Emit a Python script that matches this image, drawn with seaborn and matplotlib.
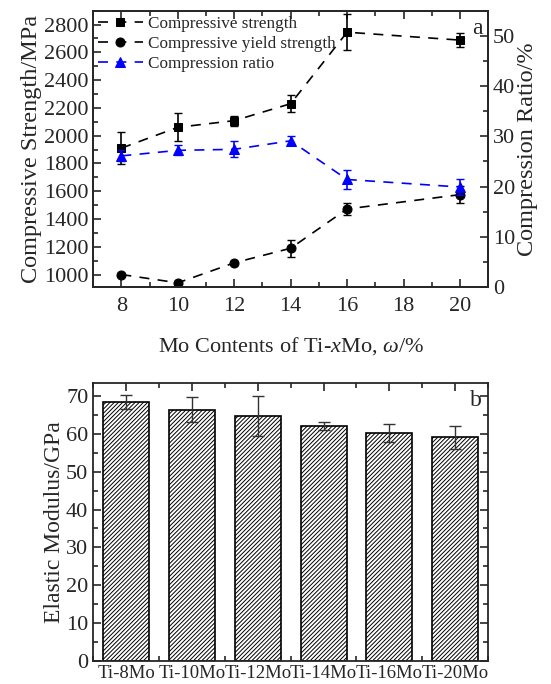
import numpy as np
import pandas as pd
import matplotlib as mpl
import matplotlib.pyplot as plt
import seaborn as sns
from matplotlib.ticker import MultipleLocator, AutoMinorLocator

# values
mo = [8, 10, 12, 14, 16, 20]
comp_strength = [1910, 2060, 2108, 2230, 2745, 2688]
comp_strength_err = [115, 100, 35, 60, 130, 50]
yield_strength = [1000, 940, 1084, 1189, 1472, 1575]
yield_strength_err = [12, 10, 12, 63, 43, 60]
comp_ratio = [26.1, 27.2, 27.4, 29.1, 21.4, 19.9]
comp_ratio_err = [1.1, 1.0, 1.6, 0.9, 1.9, 1.5]

alloys = ['Ti-8Mo', 'Ti-10Mo', 'Ti-12Mo', 'Ti-14Mo', 'Ti-16Mo', 'Ti-20Mo']
modulus = [68.4, 66.4, 64.8, 62.1, 60.3, 59.1]
modulus_err = [1.9, 3.2, 5.3, 1.0, 2.4, 3.0]

sns.set_style('ticks')
plt.rcParams['font.family'] = ['Liberation Serif', 'DejaVu Serif']
plt.rcParams['mathtext.fontset'] = 'custom'
plt.rcParams['mathtext.rm'] = 'Liberation Serif'
plt.rcParams['mathtext.it'] = 'Liberation Serif:italic'
plt.rcParams['hatch.linewidth'] = 0.7
plt.rcParams['xtick.direction'] = 'in'
plt.rcParams['ytick.direction'] = 'in'

df = pd.DataFrame({'mo': mo, 'cs': comp_strength, 'ys': yield_strength, 'cr': comp_ratio})
dash = (0, (6, 5))

fig = plt.figure(figsize=(5.51, 6.84), dpi=100)
ax = fig.add_axes([0.169, 0.5804, 0.717, 0.404])
ax2 = ax.twinx()

sns.lineplot(data=df, x='mo', y='cs', ax=ax, color='black', linestyle=dash, lw=1.2,
             marker='s', markersize=6, markeredgecolor='black', label='Compressive strength', legend=False)
sns.lineplot(data=df, x='mo', y='ys', ax=ax, color='black', linestyle=dash, lw=1.2,
             marker='o', markersize=6.5, markeredgecolor='black', label='Compressive yield strength', legend=False)
ax.errorbar(mo, comp_strength, yerr=comp_strength_err, fmt='none', ecolor='black', elinewidth=1.2, capsize=3)
ax.errorbar(mo, yield_strength, yerr=yield_strength_err, fmt='none', ecolor='black', elinewidth=1.2, capsize=3)

sns.lineplot(data=df, x='mo', y='cr', ax=ax2, color='#0000ff', linestyle=dash, lw=1.2,
             marker='^', markersize=7, markeredgecolor='#0000ff', label='Compression ratio', legend=False)
ax2.errorbar(mo, comp_ratio, yerr=comp_ratio_err, fmt='none', ecolor='#0000ff', elinewidth=1.2, capsize=3)

ax.set_xlim(7, 21)
ax.set_ylim(910, 2900)
ax2.set_ylim(0, 55)
ax.xaxis.set_major_locator(MultipleLocator(2))
ax.xaxis.set_minor_locator(MultipleLocator(1))
ax.yaxis.set_major_locator(MultipleLocator(200))
ax.yaxis.set_minor_locator(MultipleLocator(100))
ax2.yaxis.set_major_locator(MultipleLocator(10))
ax2.yaxis.set_minor_locator(MultipleLocator(5))
ax.tick_params(which='both', top=True, right=False, width=1.2, labelsize=16)
ax.tick_params(which='major', length=6)
ax.tick_params(which='minor', length=3.5)
ax.tick_params(axis='x', pad=7)
ax2.tick_params(which='both', width=1.2, labelsize=16)
ax2.tick_params(which='major', length=6)
ax2.tick_params(which='minor', length=3.5)
ax.set_xlabel(r'Mo Contents of Ti-$x$Mo, $\omega$/%', fontsize=16, labelpad=14)
ax.set_ylabel('Compressive Strength/MPa', fontsize=17.5, labelpad=1)
ax2.set_ylabel('Compression Ratio/%', fontsize=17.5, labelpad=1)
for a in (ax, ax2):
    for s in a.spines.values():
        s.set_linewidth(1.3)
ax.text(0.985, 0.975, 'a', transform=ax.transAxes, ha='right', va='top', fontsize=17)

h1, l1 = ax.get_legend_handles_labels()
h2, l2 = ax2.get_legend_handles_labels()
ax.legend(h1 + h2, l1 + l2, loc='upper left', frameon=False, fontsize=12.3,
          handlelength=2.6, handletextpad=0.3, labelspacing=0.25, borderaxespad=0.1,
          borderpad=0.2)

# bottom panel
bx = fig.add_axes([0.169, 0.0336, 0.717, 0.4069])
sns.barplot(x=alloys, y=modulus, ax=bx, color='white', edgecolor='black', linewidth=1.2,
            width=0.7, errorbar=None, saturation=1)
for p in bx.patches:
    p.set_hatch('////////')
bx.errorbar(np.arange(len(alloys)), modulus, yerr=modulus_err, fmt='none', ecolor='#333333',
            elinewidth=1.0, capsize=4)
bx.set_xlim(-0.5, 5.5)
bx.set_ylim(0, 73.5)
bx.yaxis.set_major_locator(MultipleLocator(10))
bx.yaxis.set_minor_locator(MultipleLocator(5))
bx.xaxis.set_minor_locator(AutoMinorLocator(2))
bx.tick_params(which='both', top=True, right=True, width=1.2)
bx.tick_params(which='major', length=6)
bx.tick_params(which='minor', length=3.5)
bx.tick_params(axis='y', labelsize=16)
bx.tick_params(axis='x', labelsize=13.5, pad=3)
bx.set_ylabel('Elastic Modulus/GPa', fontsize=17, labelpad=1)
for s in bx.spines.values():
    s.set_linewidth(1.3)
bx.text(0.985, 0.975, 'b', transform=bx.transAxes, ha='right', va='top', fontsize=17)

fig.savefig('out.png', dpi=100)
